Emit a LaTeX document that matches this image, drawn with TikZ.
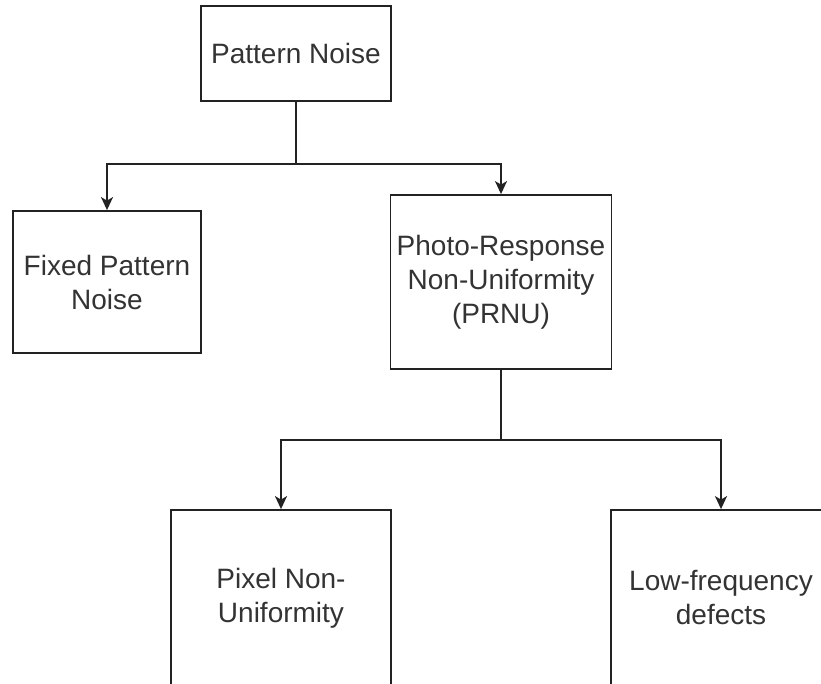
\documentclass[tikz,border=0pt]{standalone}
\usepackage{fontspec}
\setmainfont{Liberation Sans}
\usetikzlibrary{arrows.meta}
\definecolor{ln}{HTML}{222222}
\definecolor{tx}{HTML}{333333}
\begin{document}
\begin{tikzpicture}[x=1pt,y=-1pt,
  boxnode/.style={draw=ln,line width=1.8pt,inner sep=0pt,align=center,text=tx,
    font=\fontsize{28}{34}\selectfont},
  conn/.style={draw=ln,line width=1.8pt},
  arr/.style={conn,-{Stealth[length=13pt,width=12pt,inset=3.5pt]}}]
\useasboundingbox (0,0) rectangle (821,684);
\clip (0,0) rectangle (821,684);
\fill[white] (0,0) rectangle (821,684);
\node[boxnode,minimum width=190pt,minimum height=95pt] (pn) at (296,53.5) {Pattern Noise};
\node[boxnode,minimum width=188pt,minimum height=142pt] (fpn) at (107,282) {Fixed Pattern\\Noise};
\node[boxnode,minimum width=221pt,minimum height=174pt] (prnu) at (501,282) {Photo-Response\\Non-Uniformity\\(PRNU)};
\node[boxnode,minimum width=220pt,minimum height=176pt] (pix) at (281,598) {Pixel Non-\\Uniformity};
\node[boxnode,minimum width=220pt,minimum height=176pt] (low) at (721,598) {Low-frequency\\defects};
\coordinate (j1) at (296,164);
\coordinate (j2) at (501,440);
\draw[conn] (pn.south) -- (j1);
\draw[arr] (j1) -| (fpn.north);
\draw[arr] (j1) -| (prnu.north);
\draw[conn] (prnu.south) -- (j2);
\draw[arr] (j2) -| (pix.north);
\draw[arr] (j2) -| (low.north);
\end{tikzpicture}
\end{document}
